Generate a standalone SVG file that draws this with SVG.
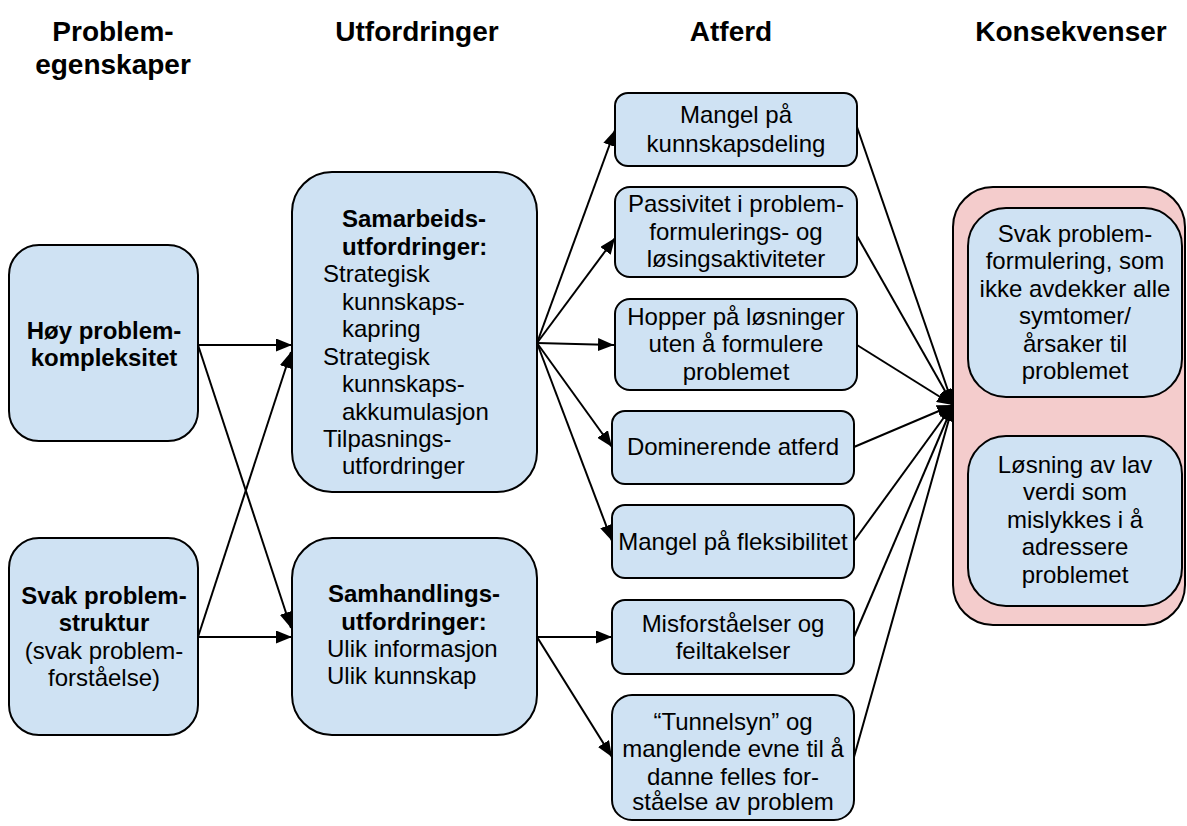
<svg xmlns="http://www.w3.org/2000/svg" width="1187" height="826" viewBox="0 0 1187 826">
  <defs>
    <marker id="arrow" markerUnits="userSpaceOnUse" markerWidth="17" markerHeight="13" refX="16" refY="6.5" orient="auto">
      <path d="M0,0 L16,6.5 L0,13 z" fill="#000"/>
    </marker>
    <style>
      .hdr { font-family: "Liberation Sans", Arial, sans-serif; font-size: 28px; font-weight: bold; fill: #000; text-anchor: middle; }
      .t { font-family: "Liberation Sans", Arial, sans-serif; font-size: 24px; fill: #000; }
      .b { font-weight: bold; }
      .c { text-anchor: middle; }
      .node { fill: #cfe2f3; stroke: #000; stroke-width: 2; }
      .group { fill: #f4cccc; stroke: #000; stroke-width: 2; }
      .edge { stroke: #000; stroke-width: 2; fill: none; marker-end: url(#arrow); }
    </style>
  </defs>
  <rect width="1187" height="826" fill="#fff"/>

  <!-- column headers -->
  <g id="headers">
    <text class="hdr" x="113" y="41">Problem-</text>
    <text class="hdr" x="113" y="74">egenskaper</text>
    <text class="hdr" x="417" y="41">Utfordringer</text>
    <text class="hdr" x="731" y="41">Atferd</text>
    <text class="hdr" x="1071" y="41">Konsekvenser</text>
  </g>

  <!-- connectors -->
  <g id="connectors">
    <line class="edge" x1="198" y1="345" x2="292" y2="345"/>
    <line class="edge" x1="198" y1="345" x2="291" y2="628"/>
    <line class="edge" x1="198" y1="637" x2="291" y2="352"/>
    <line class="edge" x1="198" y1="637" x2="292" y2="637"/>

    <line class="edge" x1="537" y1="343" x2="615" y2="130"/>
    <line class="edge" x1="537" y1="343" x2="615" y2="238"/>
    <line class="edge" x1="537" y1="343" x2="614" y2="345"/>
    <line class="edge" x1="537" y1="343" x2="612" y2="447"/>
    <line class="edge" x1="537" y1="343" x2="612" y2="541"/>

    <line class="edge" x1="537" y1="637" x2="612" y2="637"/>
    <line class="edge" x1="537" y1="637" x2="612" y2="757"/>

    <line class="edge" x1="857" y1="127" x2="953" y2="405"/>
    <line class="edge" x1="857" y1="236" x2="953" y2="405"/>
    <line class="edge" x1="857" y1="345" x2="953" y2="405"/>
    <line class="edge" x1="854" y1="447" x2="953" y2="405"/>
    <line class="edge" x1="854" y1="541" x2="953" y2="405"/>
    <line class="edge" x1="854" y1="637" x2="953" y2="405"/>
    <line class="edge" x1="854" y1="757" x2="953" y2="405"/>
  </g>

  <!-- problem properties -->
  <g id="n-hoy">
    <rect class="node" x="9" y="245" width="189" height="196" rx="30"/>
    <text class="t b c" x="104" y="339">Høy problem-</text>
    <text class="t b c" x="104" y="366">kompleksitet</text>
  </g>
  <g id="n-svak">
    <rect class="node" x="9" y="538" width="189" height="197" rx="30"/>
    <text class="t b c" x="104" y="604">Svak problem-</text>
    <text class="t b c" x="104" y="631">struktur</text>
    <text class="t c" x="104" y="659">(svak problem-</text>
    <text class="t c" x="104" y="686">forståelse)</text>
  </g>

  <!-- challenges -->
  <g id="n-samarbeid">
    <rect class="node" x="292" y="172" width="245" height="320" rx="40"/>
    <text class="t b" x="342" y="227">Samarbeids-</text>
    <text class="t b" x="342" y="255">utfordringer:</text>
    <text class="t" x="323" y="282">Strategisk</text>
    <text class="t" x="342" y="310">kunnskaps-</text>
    <text class="t" x="342" y="337">kapring</text>
    <text class="t" x="323" y="365">Strategisk</text>
    <text class="t" x="342" y="392">kunnskaps-</text>
    <text class="t" x="342" y="420">akkumulasjon</text>
    <text class="t" x="323" y="447">Tilpasnings-</text>
    <text class="t" x="342" y="474">utfordringer</text>
  </g>
  <g id="n-samhandling">
    <rect class="node" x="292" y="538" width="245" height="197" rx="40"/>
    <text class="t b c" x="414" y="602">Samhandlings-</text>
    <text class="t b c" x="414" y="630">utfordringer:</text>
    <text class="t" x="327" y="657">Ulik informasjon</text>
    <text class="t" x="327" y="684">Ulik kunnskap</text>
  </g>

  <!-- behaviour -->
  <g id="n-kunnskapsdeling">
    <rect class="node" x="615" y="93" width="242" height="73" rx="13"/>
    <text class="t c" x="736" y="123">Mangel på</text>
    <text class="t c" x="736" y="152">kunnskapsdeling</text>
  </g>
  <g id="n-passivitet">
    <rect class="node" x="615" y="187" width="242" height="90" rx="15"/>
    <text class="t c" x="736" y="212">Passivitet i problem-</text>
    <text class="t c" x="736" y="240">formulerings- og</text>
    <text class="t c" x="736" y="267">løsingsaktiviteter</text>
  </g>
  <g id="n-hopper">
    <rect class="node" x="615" y="299" width="242" height="91" rx="15"/>
    <text class="t c" x="736" y="325">Hopper på løsninger</text>
    <text class="t c" x="736" y="352">uten å formulere</text>
    <text class="t c" x="736" y="380">problemet</text>
  </g>
  <g id="n-dominerende">
    <rect class="node" x="612" y="411" width="242" height="73" rx="13"/>
    <text class="t c" x="733" y="455">Dominerende atferd</text>
  </g>
  <g id="n-fleksibilitet">
    <rect class="node" x="612" y="505" width="242" height="73" rx="13"/>
    <text class="t c" x="733" y="550">Mangel på fleksibilitet</text>
  </g>
  <g id="n-misforstaelser">
    <rect class="node" x="612" y="600" width="242" height="74" rx="13"/>
    <text class="t c" x="733" y="632">Misforståelser og</text>
    <text class="t c" x="733" y="659">feiltakelser</text>
  </g>
  <g id="n-tunnelsyn">
    <rect class="node" x="612" y="695" width="242" height="125" rx="20"/>
    <text class="t c" x="733" y="730">“Tunnelsyn” og</text>
    <text class="t c" x="733" y="757">manglende evne til å</text>
    <text class="t c" x="733" y="785">danne felles for-</text>
    <text class="t c" x="733" y="810">ståelse av problem</text>
  </g>

  <!-- consequences -->
  <g id="n-konsekvenser">
    <rect class="group" x="953" y="187" width="232" height="438" rx="40"/>
  </g>
  <g id="n-problemformulering">
    <rect class="node" x="968" y="208" width="214" height="189" rx="38"/>
    <text class="t c" x="1075" y="242">Svak problem-</text>
    <text class="t c" x="1075" y="269">formulering, som</text>
    <text class="t c" x="1075" y="297">ikke avdekker alle</text>
    <text class="t c" x="1075" y="324">symtomer/</text>
    <text class="t c" x="1075" y="352">årsaker til</text>
    <text class="t c" x="1075" y="379">problemet</text>
  </g>
  <g id="n-losning">
    <rect class="node" x="968" y="436" width="214" height="170" rx="38"/>
    <text class="t c" x="1075" y="473">Løsning av lav</text>
    <text class="t c" x="1075" y="500">verdi som</text>
    <text class="t c" x="1075" y="528">mislykkes i å</text>
    <text class="t c" x="1075" y="555">adressere</text>
    <text class="t c" x="1075" y="583">problemet</text>
  </g>
</svg>
